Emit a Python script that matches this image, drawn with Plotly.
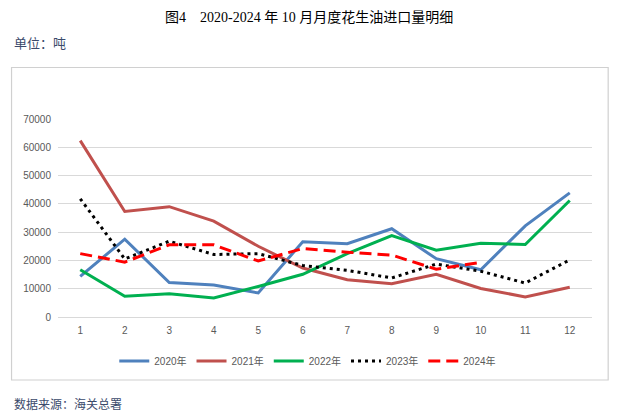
import plotly.graph_objects as go

months = [str(i) for i in range(1, 13)]
y2020 = [14350, 27500, 12200, 11300, 8500, 26600, 25900, 31200, 20600, 16700, 32200, 43900]
y2021 = [62350, 37300, 39000, 33900, 25000, 17300, 13200, 11800, 15100, 10100, 7100, 10500]
y2022 = [16700, 7300, 8200, 6700, 10800, 15100, 22400, 28800, 23600, 26100, 25600, 41200]
y2023 = [41800, 20500, 26800, 22100, 22400, 18200, 16500, 13800, 18700, 16200, 12000, 20200]
y2024 = [22400, 19400, 25500, 25500, 19800, 24200, 22900, 21900, 16900, 19300]

series = [
    ("2020年", y2020, "#4F81BD", "solid", 3),
    ("2021年", y2021, "#C0504D", "solid", 3),
    ("2022年", y2022, "#00B050", "solid", 3),
    ("2023年", y2023, "#000000", "3px,4px", 3),
    ("2024年", y2024, "#FF0000", "12px,6px", 3),
]

fig = go.Figure()
for name, ys, color, dash, w in series:
    fig.add_trace(go.Scatter(x=months[:len(ys)], y=ys, name=name, mode="lines",
                             line=dict(color=color, dash=dash, width=w)))

OFF = 8  # page body margin
W, H = 603, 404
L, T = 58 - OFF, 119 - OFF
R = W - (592.5 - OFF)
B = H - (317 - OFF)
PW, PH = W - L - R, H - T - B

def px(x):
    return (x - OFF - L) / PW

def py(y):
    return (H - B - (y - OFF)) / PH

fig.update_layout(
    width=W, height=H,
    margin=dict(l=L, r=R, t=T, b=B, pad=0),
    paper_bgcolor="white", plot_bgcolor="rgba(0,0,0,0)",
    font=dict(family="Liberation Sans, Noto Sans CJK SC", size=10, color="#595959"),
    showlegend=True,
    legend=dict(orientation="h", x=px(308), xanchor="center", y=py(361), yanchor="middle",
                font=dict(size=10, color="#595959"), itemwidth=30, tracegroupgap=0),
    xaxis=dict(type="category", range=[-0.5, 11.5], showgrid=False, showline=False, ticks="",
               tickfont=dict(size=10, color="#595959"), ticklabelstandoff=6),
    yaxis=dict(range=[0, 70000], dtick=10000, showgrid=True, gridcolor="#D9D9D9",
               gridwidth=1, zeroline=True, zerolinecolor="#D9D9D9", zerolinewidth=1,
               showline=False, tickfont=dict(size=10, color="#595959"),
               tickformat="d", ticklabelstandoff=6),
    shapes=[dict(type="rect", xref="paper", yref="paper",
                 x0=px(11.5), x1=px(608.7), y0=py(380), y1=py(67.5),
                 line=dict(color="#D0D0D0", width=1.2), fillcolor="rgba(0,0,0,0)", layer="above")],
    annotations=[
        dict(text="图4　2020-2024 年 10 月月度花生油进口量明细", xref="paper", yref="paper",
             x=px(309), y=py(17), xanchor="center", yanchor="middle",
             showarrow=False, font=dict(family="Liberation Serif, Noto Sans CJK SC", size=14, color="#000000")),
        dict(text="单位：吨", xref="paper", yref="paper",
             x=px(12), y=py(42), xanchor="left", yanchor="middle",
             showarrow=False, font=dict(family="Noto Sans CJK SC", size=13, color="#3B4A6B")),
        dict(text="数据来源：海关总署", xref="paper", yref="paper",
             x=px(12), y=py(403), xanchor="left", yanchor="middle",
             showarrow=False, font=dict(family="Noto Sans CJK SC", size=12, color="#3B4A6B")),
    ],
)

fig.write_html("out.html")
